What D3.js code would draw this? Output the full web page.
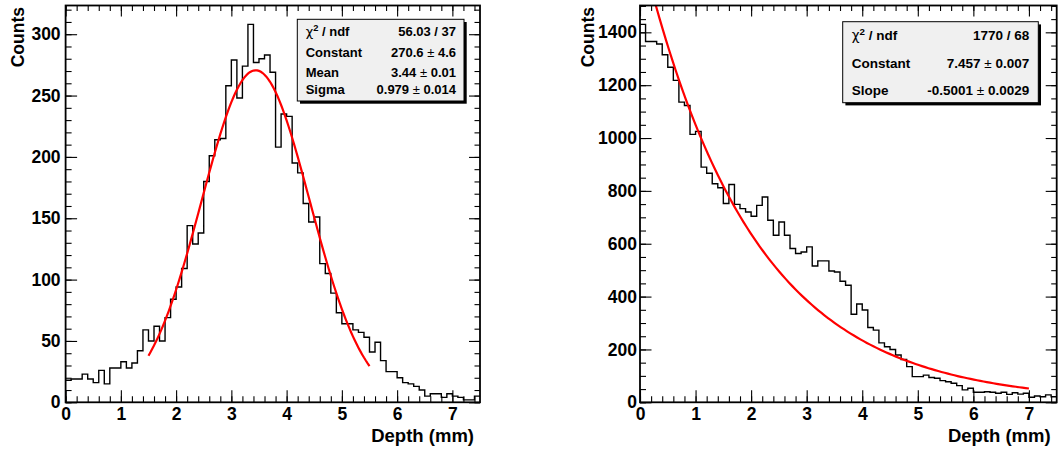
<!DOCTYPE html>
<html><head><meta charset="utf-8">
<script src="https://cdn.jsdelivr.net/npm/d3@7"></script>
<style>
html,body{margin:0;padding:0;background:#fff;}
svg{display:block;font-family:"Liberation Sans",Arial,Helvetica,sans-serif;font-weight:bold;}
</style></head><body>
<svg id="c" width="1061" height="451"></svg>
<script>
// Histogram binning: 75 bins of 0.1 mm between 0 and 7.5 mm
const xRange = [0, 7.5];
const binWidth = 0.1;

// Left panel: depth distribution with gaussian fit
const leftCounts = [
  18,19,19,23,19,16,26,15,28,28,33,28,32,42,59,50,62,50,69,84,94,109,144,129,138,
  180,201,214,215,258,279,248,274,308,277,280,283,269,208,
  235,233,195,187,162,147,151,
  113,105,89,73,64,64,59,57,53,41,49,34,25,25,20,16,15,13,10,5,7,7,4,7,5,4,2,2,5
];
// Right panel: depth distribution with exponential fit
const rightCounts = [
  1430,1365,1365,1356,1315,1268,1218,1136,1123,1014,1025,890,867,827,812,752,824,749,733,720,704,745,777,
  689,632,682,632,582,563,569,588,516,535,535,497,493,458,443,
  333,372,349,283,273,225,210,200,179,162,135,97,97,103,94,91,82,78,72,63,47,53,38,38,40,38,34,38,30,36,31,34,19,24,21,28,21
];

// Fit parameters
const gausConstant = 270.6, gausMean = 3.44, gausSigma = 0.979, gausRange = [1.5, 5.5];
const expConstant = 7.457, expSlope = -0.5001, expRange = [0, 7];

// Axis ticks
const xMajor = [0,1,2,3,4,5,6,7];
const xMinor = d3.range(0, 7.5, 0.2);
const leftYMajor = [0,50,100,150,200,250,300];
const leftYMinor = d3.range(0, 323, 10);
const rightYMajor = [0,200,400,600,800,1000,1200,1400];
const rightYMinor = d3.range(0, 1501, 50);

// Statistics box rows
const leftStats = [["χ2", "56.03 / 37"], ["Constant", "270.6", "4.6"], ["Mean", "3.44", "0.01"], ["Sigma", "0.979", "0.014"]];
const rightStats = [["χ2", "1770 / 68"], ["Constant", "7.457", "0.007"], ["Slope", "-0.5001", "0.0029"]];

const svg = d3.select("#c");
svg.append("rect").attr("width",1061).attr("height",451).attr("fill","#fff");

const panels = [
  { id:"L", counts:leftCounts, x0:65.6, x1:480, y0:5.5, y1:402.3,
    yMajor:leftYMajor, yMinor:leftYMinor, labelPad:5, countsX:24,
    fit: t => gausConstant*Math.exp(-0.5*Math.pow((t-gausMean)/gausSigma,2)), fitRange:gausRange,
    stats:leftStats, box:{x:297.3, y:19.3, w:166.7, h:81.7}, statFont:13,
    labelX:305.7, valueX:456, rowY:[35.7,56.7,76.7,94.3] },
  { id:"R", counts:rightCounts, x0:640, x1:1056.7, y0:5.5, y1:402.3,
    yMajor:rightYMajor, yMinor:rightYMinor, labelPad:3, countsX:594,
    fit: t => Math.exp(expConstant + expSlope*t), fitRange:expRange,
    stats:rightStats, box:{x:842.7, y:21.7, w:195.6, h:81}, statFont:13.5,
    labelX:851.7, valueX:1029.3, rowY:[40,68.3,95] }
];

panels.forEach(p => {
  const x = d3.scaleLinear().domain(xRange).range([p.x0, p.x1]);
  const y = d3.scaleLinear().domain([0, d3.max(p.counts)*1.05]).range([p.y1, p.y0]);
  const g = svg.append("g");

  g.append("clipPath").attr("id","clip"+p.id)
    .append("rect").attr("x",p.x0).attr("y",p.y0).attr("width",p.x1-p.x0).attr("height",p.y1-p.y0);

  // step outline of the histogram
  const pts = [];
  p.counts.forEach((c,i) => { pts.push([x(i*binWidth), y(c)], [x((i+1)*binWidth), y(c)]); });
  g.append("path").attr("d", d3.line()(pts))
    .attr("fill","none").attr("stroke","#000").attr("stroke-width",1.4)
    .attr("clip-path","url(#clip"+p.id+")");

  // fitted function
  const n = 120;
  const fpts = d3.range(n+1).map(k => {
    const t = p.fitRange[0] + (p.fitRange[1]-p.fitRange[0])*k/n;
    return [x(t), y(p.fit(t))];
  });
  g.append("path").attr("d", d3.line()(fpts))
    .attr("fill","none").attr("stroke","#ff0000").attr("stroke-width",2.2)
    .attr("clip-path","url(#clip"+p.id+")");

  const styleAxis = sel => {
    sel.select(".domain").remove();
    sel.selectAll(".tick line").attr("stroke","#000").attr("stroke-width",1.1);
    sel.selectAll("text").attr("fill","#000").attr("font-size",17.5).attr("font-weight","bold")
      .attr("font-family","'Liberation Sans',Arial,sans-serif");
  };

  // bottom axis
  g.append("g").attr("transform",`translate(0,${p.y1})`)
    .call(d3.axisBottom(x).tickValues(xMinor).tickSize(-6).tickFormat("")).call(styleAxis);
  g.append("g").attr("transform",`translate(0,${p.y1})`)
    .call(d3.axisBottom(x).tickValues(xMajor).tickSize(-12).tickPadding(5.5).tickFormat(d3.format("d"))).call(styleAxis);
  // top axis
  g.append("g").attr("transform",`translate(0,${p.y0})`)
    .call(d3.axisTop(x).tickValues(xMinor).tickSize(-5.5).tickFormat("")).call(styleAxis);
  g.append("g").attr("transform",`translate(0,${p.y0})`)
    .call(d3.axisTop(x).tickValues(xMajor).tickSize(-11).tickFormat("")).call(styleAxis);
  // left axis
  g.append("g").attr("transform",`translate(${p.x0},0)`)
    .call(d3.axisLeft(y).tickValues(p.yMinor).tickSize(-6).tickFormat("")).call(styleAxis);
  g.append("g").attr("transform",`translate(${p.x0},0)`)
    .call(d3.axisLeft(y).tickValues(p.yMajor).tickSize(-11.5).tickPadding(p.labelPad).tickFormat(d3.format("d"))).call(styleAxis);
  // right axis
  g.append("g").attr("transform",`translate(${p.x1},0)`)
    .call(d3.axisRight(y).tickValues(p.yMinor).tickSize(-5.5).tickFormat("")).call(styleAxis);
  g.append("g").attr("transform",`translate(${p.x1},0)`)
    .call(d3.axisRight(y).tickValues(p.yMajor).tickSize(-11).tickFormat("")).call(styleAxis);

  // frame
  g.append("rect").attr("x",p.x0).attr("y",p.y0).attr("width",p.x1-p.x0).attr("height",p.y1-p.y0)
    .attr("fill","none").attr("stroke","#000").attr("stroke-width",1.8);

  // axis titles
  g.append("text").attr("x",p.x1-6).attr("y",441.5).attr("text-anchor","end")
    .attr("font-size",18.5).text("Depth (mm)");
  g.append("text").attr("transform",`translate(${p.countsX},7) rotate(-90)`).attr("text-anchor","end")
    .attr("font-size",17.5).text("Counts");

  // statistics box with shadow
  const b = p.box;
  g.append("rect").attr("x",b.x+2.7).attr("y",b.y+2.7).attr("width",b.w).attr("height",b.h).attr("fill","#000");
  g.append("rect").attr("x",b.x).attr("y",b.y).attr("width",b.w).attr("height",b.h)
    .attr("fill","#f0f0f0").attr("stroke","#000").attr("stroke-width",1);
  p.stats.forEach((row,i) => {
    const yy = p.rowY[i];
    const lab = g.append("text").attr("x",p.labelX).attr("y",yy).attr("font-size",p.statFont);
    if (row[0] === "χ2") {
      lab.append("tspan").attr("font-family","'DejaVu Sans',sans-serif").attr("font-weight","normal").text("χ");
      lab.append("tspan").attr("dy",-5).attr("font-size",p.statFont*0.72).text("2");
      lab.append("tspan").attr("dy",5).text(" / ndf");
    } else {
      lab.text(row[0]);
    }
    const val = g.append("text").attr("x",p.valueX).attr("y",yy).attr("text-anchor","end").attr("font-size",p.statFont);
    if (row.length === 3) {
      val.append("tspan").text(row[1]);
      val.append("tspan").attr("font-weight","normal").text(" ± ");
      val.append("tspan").text(row[2]);
    } else {
      val.text(row[1]);
    }
  });
});
</script>
</body></html>
